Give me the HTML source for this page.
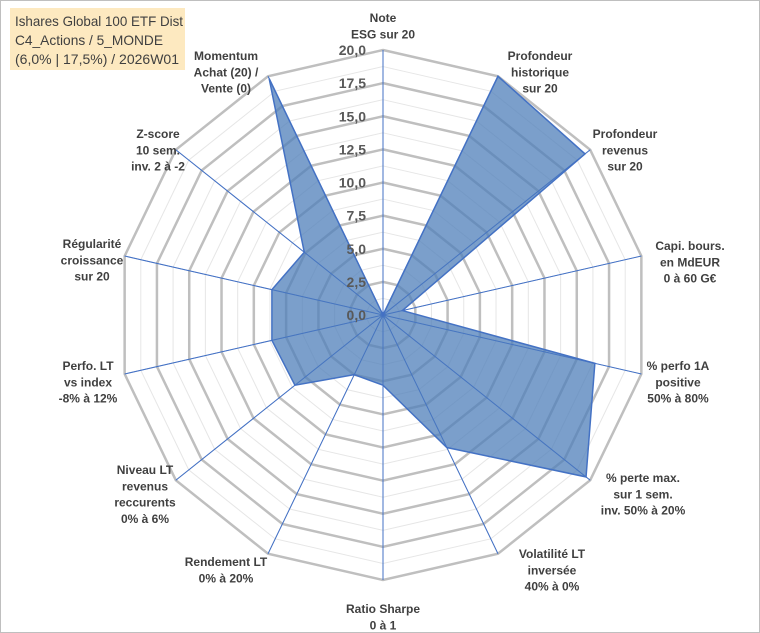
<!DOCTYPE html>
<html><head><meta charset="utf-8"><style>
html,body{margin:0;padding:0;background:#fff}
svg{display:block;font-family:"Liberation Sans",Arial,sans-serif}
.lbl{font-size:12px;font-weight:bold;fill:#404040}
.tick{font-size:14px;font-weight:bold;fill:#595959}
</style></head><body>
<svg id="c" width="760" height="633" viewBox="0 0 760 633">
<rect x="0.5" y="0.5" width="759" height="632" fill="#fff" stroke="#bfbfbf"/>
<rect x="10" y="8" width="175" height="62" fill="#fde9c0"/>
<text x="15" y="26" font-size="14" fill="#404040" textLength="168" lengthAdjust="spacingAndGlyphs">Ishares Global 100 ETF Dist</text>
<text x="15" y="45" font-size="14" fill="#404040" textLength="148" lengthAdjust="spacingAndGlyphs">C4_Actions / 5_MONDE</text>
<text x="15" y="64" font-size="14" fill="#404040" textLength="164" lengthAdjust="spacingAndGlyphs">(6,0% | 17,5%) / 2026W01</text>
<g id="grid"></g><g id="series"></g><g id="ticks"></g><g id="labels"></g>
</svg>
<script>
const categories=[["Note","ESG sur 20"],["Profondeur","historique","sur 20"],["Profondeur","revenus","sur 20"],["Capi. bours.","en MdEUR","0 à 60 G€"],["% perfo 1A","positive","50% à 80%"],["% perte max.","sur 1 sem.","inv. 50% à 20%"],["Volatilité LT","inversée","40% à 0%"],["Ratio Sharpe","0 à 1"],["Rendement LT","0% à 20%"],["Niveau LT","revenus","reccurents","0% à 6%"],["Perfo. LT","vs index","-8% à 12%"],["Régularité","croissance","sur 20"],["Z-score","10 sem.","inv. 2 à -2"],["Momentum","Achat (20) /","Vente (0)"]];
const values=[0,20,19.5,1.5,16.4,19.6,11.1,5.3,5.0,8.5,8.6,8.6,7.6,19.8];
const tickLabels=["0,0","2,5","5,0","7,5","10,0","12,5","15,0","17,5","20,0"];
const labelPos=[[383,12],[540,50],[625,128],[690,240],[678,360],[643,472],[552,548],[383,603],[226,556],[145,464],[88,360],[92,238],[158,128],[226,50]];
const NS="http://www.w3.org/2000/svg";
const cx=383,cy=315,R=265,maxV=20,N=categories.length;
function pt(i,v){const a=i*2*Math.PI/N;const r=v/maxV*R;return [cx+r*Math.sin(a),cy-r*Math.cos(a)];}
function mk(tag,attrs,parent){const e=document.createElementNS(NS,tag);for(const k in attrs)e.setAttribute(k,attrs[k]);parent.appendChild(e);return e;}
const grid=document.getElementById('grid');
for(let s=1;s<=16;s++){const v=s*1.25;const p=[];for(let i=0;i<N;i++)p.push(pt(i,v).join(','));
const major=s%2===0;
const e=mk('polygon',{points:p.join(' '),fill:'none',stroke:major?'#bfbfbf':'#e6e6e6','stroke-width':major?2.5:1},grid);

}
for(let i=0;i<N;i++){const [x,y]=pt(i,maxV);
const e=mk('line',{x1:cx,y1:cy,x2:x,y2:y,stroke:'#4472c4','stroke-width':1},grid);

}
const ser=document.getElementById('series');
const pts=values.map((v,i)=>pt(i,v).join(',')).join(' ');
const poly=mk('polygon',{points:pts,fill:'#4f7fba','fill-opacity':0.75,stroke:'#4472c4','stroke-width':1.5,'stroke-linejoin':'miter'},ser);


for(let i=0;i<N;i++){const [x,y]=pt(i,maxV);
const e=mk('line',{x1:cx,y1:cy,x2:x,y2:y,stroke:'#4472c4','stroke-width':0.8,'stroke-opacity':0.6},ser);

}
const tk=document.getElementById('ticks');
tickLabels.forEach((t,k)=>{const y=cy-k*2.5/maxV*R;
const e=mk('text',{x:366,y:y+5,'text-anchor':'end',class:'tick'},tk);e.textContent=t;

});
const lb=document.getElementById('labels');
categories.forEach((lines,i)=>{const [x,y]=labelPos[i];
const e=mk('text',{x:x,y:y+10,'text-anchor':'middle',class:'lbl'},lb);


lines.forEach((l,j)=>{const s=mk('tspan',{x:x,dy:j===0?0:16.3},e);s.textContent=l;});});
</script>
</body></html>
